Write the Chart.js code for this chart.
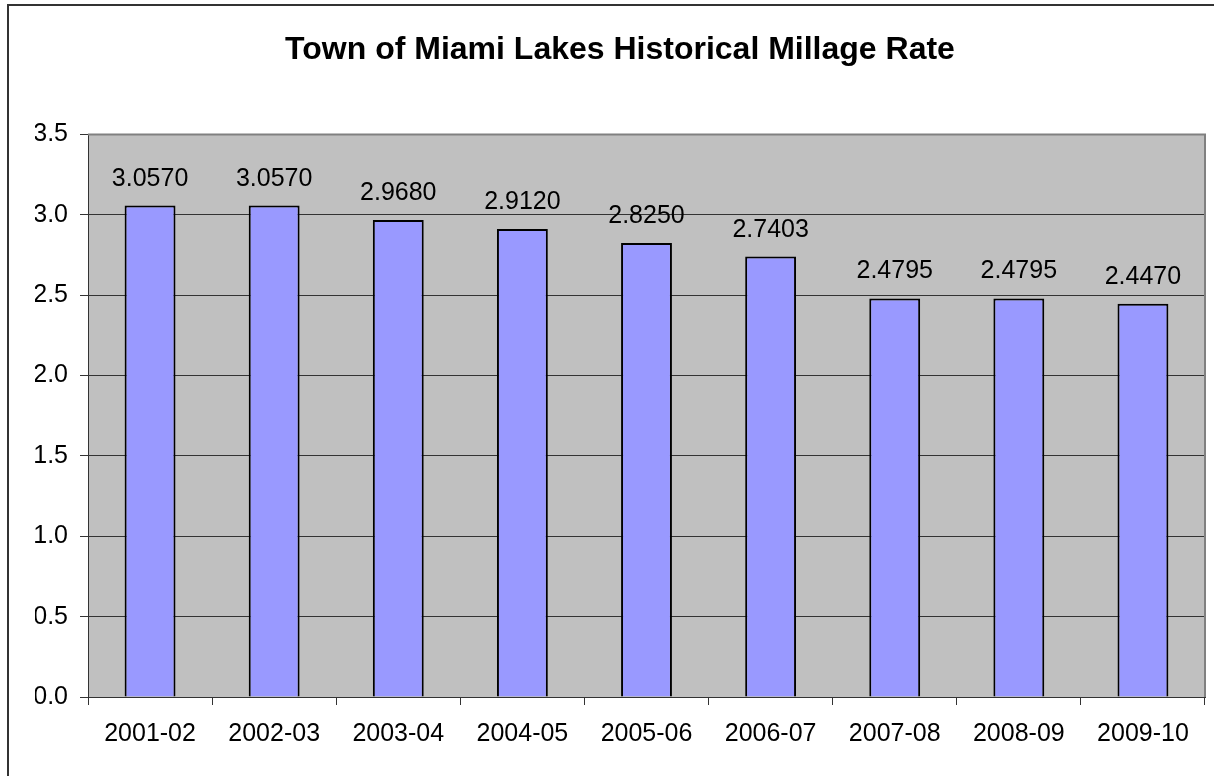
<!DOCTYPE html>
<html>
<head>
<meta charset="utf-8">
<script src="https://cdn.jsdelivr.net/npm/chart.js@4.4.0/dist/chart.umd.min.js"></script>
<style>
  html, body { margin: 0; padding: 0; background: #fff; }
  #wrap { width: 1214px; height: 776px; }
</style>
</head>
<body>
<div id="wrap"><canvas id="millageChart" width="1214" height="776"></canvas></div>
<script>
// values
const years = ["2001-02", "2002-03", "2003-04", "2004-05", "2005-06", "2006-07", "2007-08", "2008-09", "2009-10"];
const millage = [3.0570, 3.0570, 2.9680, 2.9120, 2.8250, 2.7403, 2.4795, 2.4795, 2.4470];
const yTicks = [0, 0.5, 1.0, 1.5, 2.0, 2.5, 3.0, 3.5];
const chartTitle = "Town of Miami Lakes Historical Millage Rate";

const family = "'Liberation Sans', Arial, sans-serif";

// grey plot background + the outer frame (cut off at right/bottom in the original)
const frameAndPlot = {
  id: "frameAndPlot",
  beforeDraw(chart) {
    const { ctx, chartArea: a } = chart;
    ctx.save();
    ctx.fillStyle = "#c0c0c0";
    ctx.fillRect(a.left, a.top, a.right - a.left, a.bottom - a.top);
    ctx.strokeStyle = "#333";
    ctx.lineWidth = 2;
    ctx.beginPath();
    ctx.moveTo(8, chart.height + 5);
    ctx.lineTo(8, 5);
    ctx.lineTo(chart.width + 5, 5);
    ctx.stroke();
    ctx.restore();
  },
  beforeDatasetsDraw(chart) {
    // top / right edge of the plot area are lighter grey
    const { ctx, chartArea: a } = chart;
    ctx.save();
    ctx.strokeStyle = "#808080";
    ctx.lineWidth = 2;
    ctx.beginPath();
    ctx.moveTo(a.left, a.top);
    ctx.lineTo(a.right, a.top);
    ctx.lineTo(a.right, a.bottom);
    ctx.stroke();
    ctx.restore();
  }
};

// value above every bar, 4 decimals like the original
const valueLabels = {
  id: "valueLabels",
  afterDatasetsDraw(chart) {
    const { ctx } = chart;
    const meta = chart.getDatasetMeta(0);
    ctx.save();
    ctx.font = "25px " + family;
    ctx.fillStyle = "#000";
    ctx.textAlign = "center";
    ctx.textBaseline = "alphabetic";
    meta.data.forEach((bar, i) => {
      ctx.fillText(millage[i].toFixed(4), bar.x, bar.y - 20);
    });
    ctx.restore();
  }
};

new Chart(document.getElementById("millageChart"), {
  type: "bar",
  data: {
    labels: years,
    datasets: [{
      data: millage,
      backgroundColor: "#9999ff",
      borderColor: "#000",
      borderWidth: 2,
      barPercentage: 0.41,
      categoryPercentage: 1
    }]
  },
  options: {
    responsive: false,
    animation: false,
    devicePixelRatio: 1,
    layout: { padding: { left: 35, right: 9, top: 31, bottom: 0 } },
    plugins: {
      legend: { display: false },
      tooltip: { enabled: false },
      title: {
        display: true,
        text: chartTitle,
        color: "#000",
        font: { family, size: 32, weight: "bold", lineHeight: 1.2 },
        padding: { top: 0, bottom: 65 }
      }
    },
    scales: {
      x: {
        grid: { display: true, drawOnChartArea: false, drawTicks: true, tickLength: 8, offset: true, color: "#333" },
        border: { color: "#333", width: 1 },
        ticks: { color: "#000", font: { family, size: 25 }, padding: 14, maxRotation: 0, autoSkip: false },
        afterFit: s => { s.height = 79; }
      },
      y: {
        min: 0,
        max: 3.5,
        afterBuildTicks: axis => { axis.ticks = yTicks.map(v => ({ value: v })); },
        grid: { color: "#333", tickLength: 8 },
        border: { color: "#333", width: 1 },
        ticks: { color: "#000", font: { family, size: 25 }, padding: 12, callback: v => v.toFixed(1) },
        afterFit: s => { s.width = 53; }
      }
    }
  },
  plugins: [frameAndPlot, valueLabels]
});
</script>
</body>
</html>
